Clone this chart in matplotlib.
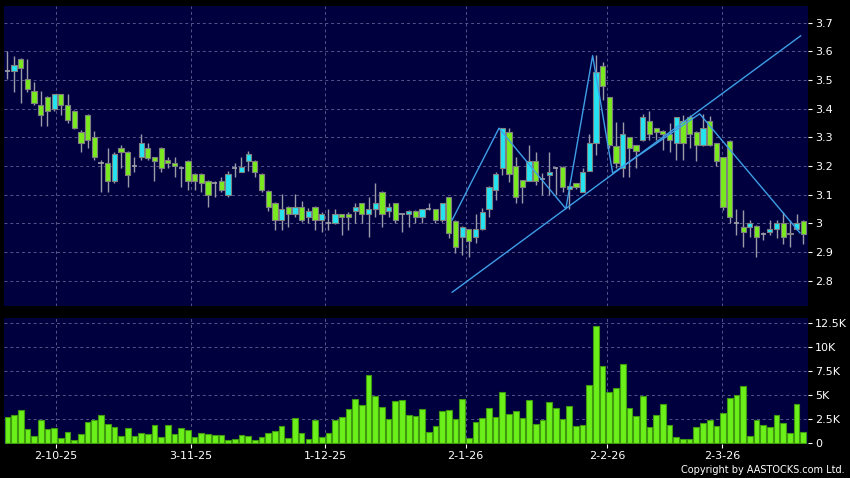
import matplotlib
matplotlib.use("Agg")
import matplotlib.pyplot as plt
import numpy as np

# daily OHLC (HK$), index 0 = first trading day shown
opens = [3.530, 3.530, 3.572, 3.503, 3.461, 3.412, 3.440, 3.400, 3.450, 3.412,
         3.391, 3.320, 3.379, 3.300, 3.210, 3.210, 3.149, 3.262, 3.250, 3.200,
         3.230, 3.262, 3.230, 3.262, 3.221, 3.210, 3.192, 3.219, 3.172, 3.172,
         3.149, 3.140, 3.149, 3.100, 3.192, 3.180, 3.219, 3.219, 3.172, 3.112,
         3.070, 3.012, 3.058, 3.032, 3.058, 3.021, 3.058, 3.012, 3.002, 3.000,
         3.032, 3.032, 3.043, 3.070, 3.032, 3.049, 3.111, 3.043, 3.070, 3.032,
         3.032, 3.043, 3.021, 3.049, 3.049, 3.012, 3.091, 3.009, 2.951, 2.979,
         2.951, 2.979, 3.049, 3.116, 3.192, 3.320, 3.200, 3.151, 3.149, 3.219,
         3.154, 3.170, 3.194, 3.198, 3.119, 3.140, 3.111, 3.184, 3.279, 3.550,
         3.440, 3.270, 3.192, 3.300, 3.272, 3.291, 3.358, 3.332, 3.322, 3.311,
         3.279, 3.358, 3.370, 3.320, 3.273, 3.358, 3.279, 3.230, 3.288, 3.000,
         2.988, 2.988, 2.991, 2.962, 2.969, 2.979, 3.000, 2.962, 2.979, 3.009]
highs = [3.601, 3.584, 3.575, 3.572, 3.492, 3.462, 3.445, 3.452, 3.452, 3.450,
         3.395, 3.325, 3.382, 3.323, 3.221, 3.262, 3.250, 3.272, 3.252, 3.233,
         3.312, 3.279, 3.232, 3.265, 3.233, 3.230, 3.198, 3.222, 3.175, 3.175,
         3.152, 3.149, 3.161, 3.184, 3.210, 3.233, 3.254, 3.222, 3.175, 3.115,
         3.075, 3.101, 3.060, 3.101, 3.079, 3.053, 3.060, 3.040, 3.049, 3.049,
         3.034, 3.040, 3.070, 3.072, 3.091, 3.142, 3.113, 3.070, 3.072, 3.034,
         3.045, 3.045, 3.051, 3.070, 3.051, 3.072, 3.093, 3.011, 2.990, 2.981,
         3.033, 3.053, 3.130, 3.180, 3.333, 3.332, 3.232, 3.153, 3.273, 3.250,
         3.175, 3.250, 3.196, 3.200, 3.132, 3.142, 3.192, 3.312, 3.587, 3.564,
         3.442, 3.355, 3.355, 3.302, 3.274, 3.382, 3.393, 3.334, 3.324, 3.349,
         3.372, 3.378, 3.378, 3.322, 3.380, 3.375, 3.281, 3.232, 3.290, 3.049,
         3.047, 3.012, 2.993, 2.971, 3.012, 3.012, 3.041, 3.012, 3.032, 3.011]
lows = [3.503, 3.459, 3.421, 3.459, 3.412, 3.340, 3.340, 3.391, 3.379, 3.351,
        3.330, 3.250, 3.262, 3.221, 3.111, 3.111, 3.140, 3.192, 3.128, 3.180,
        3.221, 3.221, 3.149, 3.180, 3.192, 3.161, 3.128, 3.116, 3.116, 3.111,
        3.058, 3.091, 3.111, 3.091, 3.161, 3.178, 3.184, 3.161, 3.111, 3.044,
        2.977, 2.977, 2.988, 3.021, 3.005, 3.000, 2.977, 2.969, 2.977, 2.998,
        2.960, 2.977, 3.000, 3.000, 2.951, 3.021, 2.988, 3.021, 3.000, 2.969,
        2.988, 3.000, 3.000, 3.047, 3.000, 3.005, 2.948, 2.898, 2.890, 2.884,
        2.930, 2.977, 3.021, 3.082, 3.169, 3.145, 3.070, 3.070, 3.147, 3.134,
        3.099, 3.099, 3.099, 3.111, 3.049, 3.120, 3.109, 3.182, 3.239, 3.430,
        3.262, 3.192, 3.163, 3.163, 3.192, 3.289, 3.291, 3.291, 3.256, 3.250,
        3.221, 3.221, 3.262, 3.219, 3.271, 3.271, 3.200, 3.047, 3.000, 2.960,
        2.919, 2.951, 2.882, 2.942, 2.960, 2.949, 2.928, 2.919, 2.977, 2.928]
closes = [3.530, 3.551, 3.541, 3.470, 3.421, 3.379, 3.391, 3.450, 3.412, 3.360,
          3.332, 3.279, 3.291, 3.230, 3.210, 3.149, 3.241, 3.250, 3.170, 3.200,
          3.279, 3.229, 3.219, 3.192, 3.210, 3.200, 3.192, 3.149, 3.149, 3.140,
          3.100, 3.140, 3.116, 3.172, 3.192, 3.198, 3.242, 3.180, 3.116, 3.058,
          3.012, 3.049, 3.032, 3.058, 3.012, 3.043, 3.012, 3.032, 3.002, 3.032,
          3.021, 3.021, 3.058, 3.032, 3.049, 3.070, 3.032, 3.058, 3.012, 3.032,
          3.043, 3.021, 3.049, 3.049, 3.012, 3.070, 2.968, 2.919, 2.988, 2.940,
          2.979, 3.041, 3.128, 3.171, 3.332, 3.172, 3.091, 3.128, 3.219, 3.149,
          3.154, 3.180, 3.194, 3.128, 3.130, 3.128, 3.180, 3.279, 3.529, 3.480,
          3.273, 3.210, 3.311, 3.262, 3.252, 3.370, 3.312, 3.320, 3.311, 3.291,
          3.370, 3.279, 3.312, 3.273, 3.332, 3.273, 3.219, 3.058, 3.021, 3.000,
          2.969, 3.000, 2.951, 2.962, 2.979, 3.000, 2.951, 2.967, 3.000, 2.962]

# volume in thousands of shares
volumes = [2.76, 3.00, 3.48, 1.45, 0.76, 2.41, 1.45, 1.62, 0.59, 1.17,
           0.34, 1.00, 2.20, 2.41, 2.93, 2.03, 1.72, 0.76, 1.55, 0.76,
           1.10, 0.96, 1.89, 0.65, 1.89, 0.93, 1.55, 1.38, 0.62, 1.03,
           1.00, 0.83, 0.83, 0.38, 0.48, 0.86, 0.72, 0.38, 0.69, 1.03,
           1.27, 1.83, 0.52, 2.62, 1.07, 0.45, 2.48, 0.65, 1.07, 2.41,
           2.76, 3.62, 4.62, 3.96, 7.13, 4.93, 3.75, 2.55, 4.44, 4.48,
           3.00, 2.89, 3.58, 1.17, 1.76, 3.37, 3.44, 2.51, 4.62, 0.55,
           2.27, 2.65, 3.72, 2.76, 5.34, 3.03, 3.41, 2.65, 4.55, 2.00,
           2.48, 4.34, 3.69, 2.51, 3.93, 1.79, 1.93, 6.03, 12.23, 8.03,
           5.30, 5.72, 8.27, 3.69, 2.83, 4.96, 1.65, 3.00, 4.10, 1.89,
           0.65, 0.45, 0.48, 1.69, 2.10, 2.45, 1.83, 3.20, 4.68, 4.99,
           5.92, 0.72, 2.38, 1.86, 1.72, 2.96, 2.10, 1.10, 4.06, 1.20]

date_pos = [7.25, 27.4, 47.5, 68.5, 89.65, 106.85]
date_labels = ["2-10-25", "3-11-25", "1-12-25", "2-1-26", "2-2-26", "2-3-26"]

# drawn lines (index, price)
zig_x = [66.5, 73.5, 83.5, 87.5, 90.5, 103.5, 118.5]
zig_y = [3.012, 3.332, 3.051, 3.585, 3.175, 3.382, 2.967]
trend_x = [66.5, 118.6]
trend_y = [2.760, 3.654]

bg = "#00003f"
up_col = "#25e4f2"
down_col = "#78ea1e"
grid_kw = dict(color="#55558a", linestyle=(0, (3, 3)), linewidth=0.7)

fig = plt.figure(figsize=(8.5, 4.78), dpi=100, facecolor="black")
ax = fig.add_axes([4 / 850, 1 - 306 / 478, 804 / 850, 300 / 478], facecolor=bg)
axv = fig.add_axes([4 / 850, 1 - 444 / 478, 804 / 850, 125.7 / 478], facecolor=bg, sharex=ax)

x = np.arange(len(opens))
o = np.array(opens)
c = np.array(closes)
up = c > o
down = c < o
flat = c == o

for a in (ax, axv):
    for s in a.spines.values():
        s.set_visible(False)
    a.set_axisbelow(True)
    for p in date_pos:
        a.axvline(p, **grid_kw, zorder=0)

# candles
ax.vlines(x, lows, highs, color="#9a9aa8", linewidth=1, zorder=2)
w = 0.78
ax.bar(x[up], (c - o)[up], bottom=o[up], width=w, color=up_col,
       edgecolor="#808080", linewidth=0.8, zorder=3)
ax.bar(x[down], (o - c)[down], bottom=c[down], width=w, color=down_col,
       edgecolor="#808080", linewidth=0.8, zorder=3)
ax.hlines(o[flat], x[flat] - w / 2, x[flat] + w / 2, color="#a0a0a8", linewidth=1.2, zorder=3)

ax.plot(zig_x, zig_y, color="#3e9fe6", linewidth=1, zorder=4)
ax.plot(trend_x, trend_y, color="#3e9fe6", linewidth=1, zorder=4)

ax.set_xlim(-0.5, 119.7)
ax.set_ylim(2.712, 3.758)
yt = np.round(np.arange(2.8, 3.71, 0.1), 1)
ax.set_yticks(yt)
ax.set_yticklabels(["%g" % v for v in yt])
for v in yt:
    ax.axhline(v, **grid_kw, zorder=0)
ax.yaxis.tick_right()
ax.tick_params(axis="y", colors="white", labelsize=8, length=3, width=0.8, pad=2)
ax.tick_params(axis="x", bottom=False, labelbottom=False)

# volume
axv.bar(x, volumes, width=0.85, color="#6cf01a", edgecolor="#3f9a10", linewidth=0.8, zorder=3)
axv.set_ylim(-0.07, 13.02)
vt = [0, 2.5, 5, 7.5, 10, 12.5]
axv.set_yticks(vt)
axv.set_yticklabels(["0" if v == 0 else "%gK" % v for v in vt])
for v in vt[1:]:
    axv.axhline(v, **grid_kw, zorder=0)
axv.yaxis.tick_right()
axv.tick_params(axis="y", colors="white", labelsize=8, length=3, width=0.8, pad=2)
axv.set_xticks(date_pos)
axv.set_xticklabels(date_labels)
axv.tick_params(axis="x", colors="white", labelsize=8, length=3, width=0.8, pad=2)

fig.text(0.994, 0.006, "Copyright by AASTOCKS.com Ltd.", ha="right", va="bottom",
         fontsize=7, color="white")

fig.savefig("out.png", dpi=100, facecolor="black")
